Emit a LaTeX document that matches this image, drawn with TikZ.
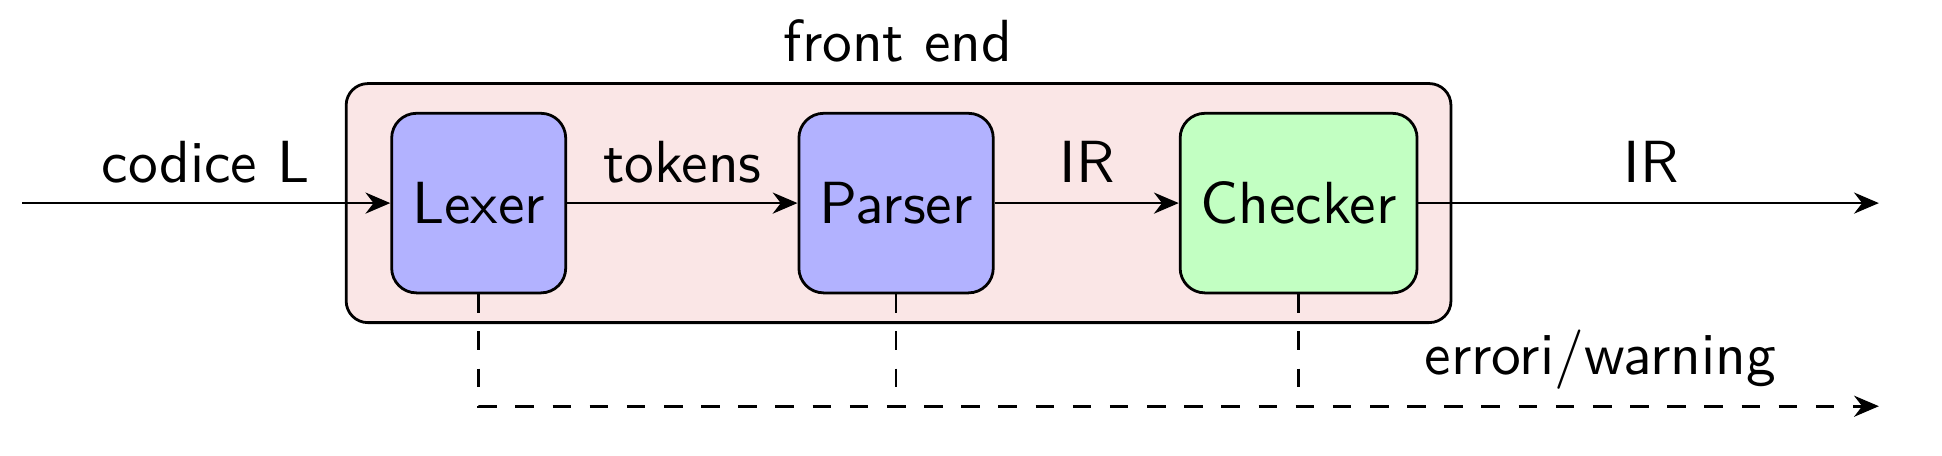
\documentclass[tikz,border=0pt]{standalone}
\usetikzlibrary{arrows.meta}
\renewcommand{\familydefault}{\sfdefault}
\newcommand{\diagfont}{\sffamily\fontsize{9.6}{11.5}\selectfont}
\definecolor{fepink}{RGB}{250,230,230}
\begin{document}
\begin{tikzpicture}[x=0.2pt,y=-0.2pt,
  stagebox/.style={draw, line width=0.45pt, rounded corners=4pt, minimum height=29pt, text height=6.6pt, text depth=0pt, font=\diagfont},
  frontbox/.style={draw, line width=0.45pt, rounded corners=3.5pt, fill=fepink},
  lbl/.style={anchor=base, font=\diagfont, inner sep=0pt},
  flow/.style={line width=0.45pt, -{Stealth[length=4pt,width=3.4pt,inset=1.3pt]}},
  errline/.style={line width=0.45pt, dashed}]
\useasboundingbox (0,0) rectangle (1568,368);
\node[frontbox, minimum width=178.4pt, minimum height=38.6pt] (fe) at (725.5,164) {};
\node[lbl] (felbl) at (725,50) {front end};
\node[stagebox, fill=blue!30, minimum width=27.8pt] (lexer) at (386.5,164) {Lexer};
\node[stagebox, fill=blue!30, minimum width=31pt] (parser) at (723.5,164) {Parser};
\node[stagebox, fill=green!24, minimum width=37.8pt] (checker) at (1048.5,164) {Checker};
\coordinate (in) at (18,164);
\coordinate (out) at (1517,164);
\coordinate (errend) at (1517,328);
\draw[flow] (in) -- (lexer.west);
\draw[flow] (lexer.east) -- (parser.west);
\draw[flow] (parser.east) -- (checker.west);
\draw[flow] (checker.east) -- (out);
\node[lbl] (l1) at (166,147) {codice L};
\node[lbl] (l2) at (551,147) {tokens};
\node[lbl] (l3) at (878,147) {IR};
\node[lbl] (l4) at (1333,147) {IR};
\node[lbl] (l5) at (1292,302) {errori/warning};
\draw[errline, -{Stealth[length=4pt,width=3.4pt,inset=1.3pt]}] (lexer.south) |- (errend);
\draw[errline] (parser.south) -- (parser.south |- errend);
\draw[errline] (checker.south) -- (checker.south |- errend);
\end{tikzpicture}
\end{document}
